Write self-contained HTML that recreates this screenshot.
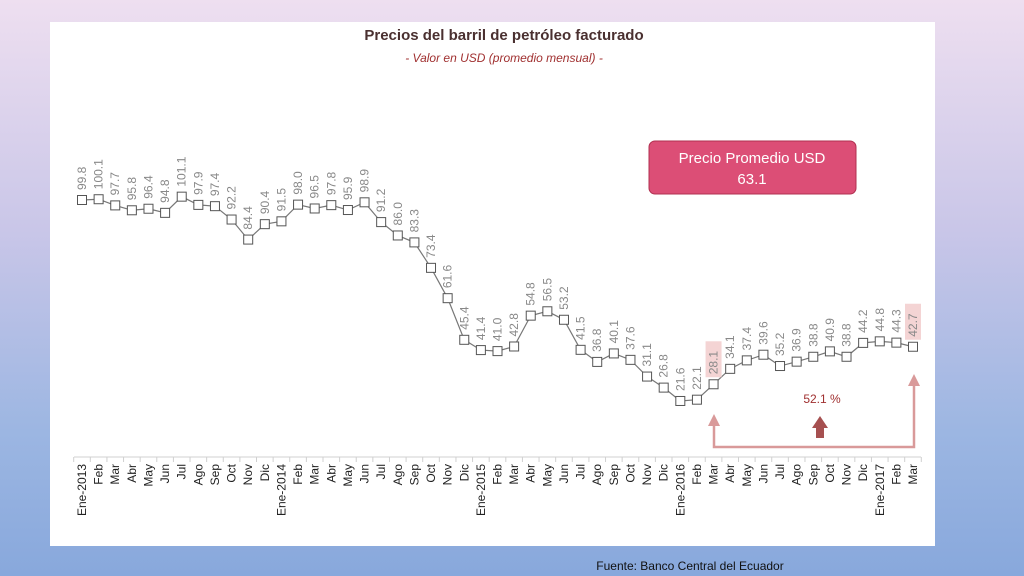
<!DOCTYPE html>
<html><head><meta charset="utf-8"><style>
html,body{margin:0;padding:0}
body{width:1024px;height:576px;overflow:hidden;background:linear-gradient(180deg,#eedff0 0%,#c9c6e8 40%,#9cb6e2 75%,#88a8dc 100%);font-family:"Liberation Sans",sans-serif;position:relative}
#panel{position:absolute;left:50px;top:22px;width:885px;height:524px;background:#fff}
</style></head><body>
<div id="panel"></div>
<svg id="chart" width="1024" height="576" style="position:absolute;left:0;top:0">
<text x="504" y="40" text-anchor="middle" font-size="15" font-weight="bold" fill="#4a3030">Precios del barril de petróleo facturado</text>
<text x="504" y="62" text-anchor="middle" font-size="12" font-style="italic" fill="#a03030">- Valor en USD (promedio mensual) -</text>
<g>
<rect x="649" y="141" width="207" height="53" rx="6" fill="#dc4e76" stroke="#b03050" stroke-width="1"/>
<text x="752" y="163" text-anchor="middle" font-size="15" fill="#fff">Precio Promedio USD</text>
<text x="752" y="184" text-anchor="middle" font-size="15" fill="#fff">63.1</text>
</g>
<g id="annot">
<polyline points="714,418 714,447 914,447 914,378" fill="none" stroke="#d99a9a" stroke-width="2.5"/>
<polygon points="708,426 714,414 720,426" fill="#d99a9a"/>
<polygon points="908,386 914,374 920,386" fill="#d99a9a"/>
<polygon points="812,428 820,416 828,428 824,428 824,438 816,438 816,428" fill="#a65050"/>
<text x="822" y="403" text-anchor="middle" font-size="12" fill="#a03030">52.1 %</text>
</g>
<g id="plot"></g>
<text x="690" y="570" text-anchor="middle" font-size="12" fill="#111">Fuente: Banco Central del Ecuador</text>
</svg>
<script>
const categories=["Ene-2013","Feb","Mar","Abr","May","Jun","Jul","Ago","Sep","Oct","Nov","Dic","Ene-2014","Feb","Mar","Abr","May","Jun","Jul","Ago","Sep","Oct","Nov","Dic","Ene-2015","Feb","Mar","Abr","May","Jun","Jul","Ago","Sep","Oct","Nov","Dic","Ene-2016","Feb","Mar","Abr","May","Jun","Jul","Ago","Sep","Oct","Nov","Dic","Ene-2017","Feb","Mar"];
const prices=[99.8,100.1,97.7,95.8,96.4,94.8,101.1,97.9,97.4,92.2,84.4,90.4,91.5,98.0,96.5,97.8,95.9,98.9,91.2,86.0,83.3,73.4,61.6,45.4,41.4,41.0,42.8,54.8,56.5,53.2,41.5,36.8,40.1,37.6,31.1,26.8,21.6,22.1,28.1,34.1,37.4,39.6,35.2,36.9,38.8,40.9,38.8,44.2,44.8,44.3,42.7];
const highlighted=[38,50];
const NS="http://www.w3.org/2000/svg";
const plot=document.getElementById('plot');
const x0=82,dx=(913-82)/50;
function xs(i){return x0+i*dx;}
function ys(v){return 200+(99.8-v)*2.57;}
function mk(t,a){const e=document.createElementNS(NS,t);for(const k in a)e.setAttribute(k,a[k]);plot.appendChild(e);return e;}
const axis=mk('line',{x1:x0-8,x2:913+8,y1:457,y2:457,stroke:'#d0d0d0'});


for(let i=0;i<=categories.length;i++){const tk=mk('line',{x1:xs(i)-dx/2,x2:xs(i)-dx/2,y1:457,y2:462,stroke:'#d0d0d0'});

}
categories.forEach((c,i)=>{const t=mk('text',{x:0,y:0,'font-size':12,fill:'#222','text-anchor':'end',transform:`translate(${xs(i)+4},464) rotate(-90)`});t.textContent=c;

});
const line=mk('polyline',{points:prices.map((v,i)=>xs(i)+','+ys(v)).join(' '),fill:'none',stroke:'#777','stroke-width':1.2});


prices.forEach((v,i)=>{const x=xs(i),y=ys(v);
if(highlighted.includes(i)){const h=mk('rect',{x:x-8,y:y-43,width:16,height:36,fill:'#f4d4d4'});

}
const m=mk('rect',{x:x-4.5,y:y-4.5,width:9,height:9,fill:'#fff',stroke:'#555','stroke-width':1});


const t=mk('text',{x:0,y:0,'font-size':12,fill:'#888','text-anchor':'start',transform:`translate(${x+4},${y-10}) rotate(-90)`});t.textContent=v.toFixed(1);

});
</script>
</body></html>
